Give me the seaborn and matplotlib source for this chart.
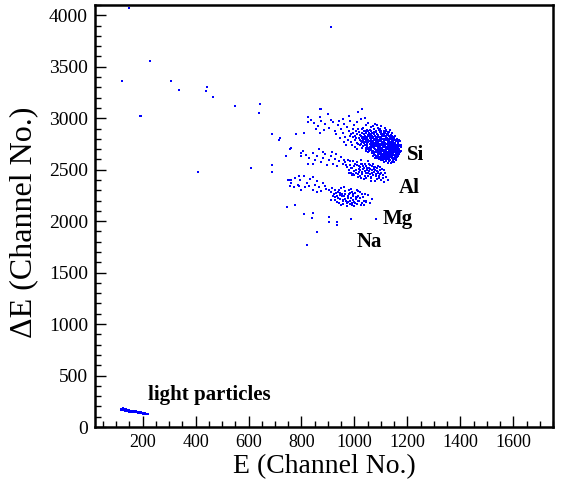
import matplotlib
matplotlib.use("Agg")
import matplotlib.pyplot as plt
import seaborn as sns
import pandas as pd
from matplotlib.ticker import MultipleLocator

# scattered single events
stray_e = [147, 911, 226, 123, 308, 336, 444, 440, 464, 190, 195, 548, 643, 639, 870,
           688, 716, 756, 743, 799, 799, 687, 688, 609, 409, 762, 824, 826, 780, 809,
           717, 761, 742, 1029, 874, 792, 755]
stray_de = [4075, 3887, 3553, 3359, 3366, 3275, 3304, 3265, 3207, 3019, 3019, 3120, 3139, 3055, 3091,
            2842, 2786, 2702, 2631, 2660, 2635, 2550, 2476, 2518, 2482, 2398, 3007, 2965, 2845, 2858,
            2803, 2706, 2631, 3094, 3094, 2343, 2398]

# Si band: halo + dense core
si_pts = [
    (835, 2985), (848, 2950), (862, 2920), (875, 2975), (890, 2940), (902, 2905), (918, 2960),
    (925, 2880), (936, 2930), (948, 2895), (955, 2860), (962, 2940), (970, 2910), (978, 2875),
    (986, 2845), (993, 2900), (942, 2970), (910, 2985), (885, 2890), (870, 2860), (855, 2895),
    (965, 2820), (975, 2790), (988, 2765), (995, 2860), (1000, 2930), (1010, 2960), (1025, 2990),
    (983, 2975), (958, 2995), (931, 2842), (947, 2805), (960, 2770), (990, 2735), (1002, 2720),
    (1010, 2700), (968, 2742), (1040, 3000), (980, 3020), (1015, 3060), (900, 3040), (870, 3010),
    (1045, 2935), (1062, 2912), (1078, 2948), (1090, 2905), (1101, 2925), (1033, 2908), (1070, 2928),
    (1115, 2902), (1052, 2956), (1085, 2930),
    (1005, 2880), (1018, 2862), (1027, 2893), (1039, 2871), (1048, 2889), (1056, 2858), (1064, 2877),
    (1072, 2895), (1081, 2866), (1093, 2884), (1102, 2859), (1110, 2876), (1121, 2890), (1128, 2864),
    (1012, 2897), (1044, 2852), (1097, 2897), (1067, 2853), (1135, 2881), (1030, 2855),
    (985, 2832), (996, 2815), (1008, 2842), (1016, 2808), (1024, 2828), (1035, 2847), (1041, 2812),
    (1050, 2835), (1058, 2804), (1066, 2826), (1073, 2845), (1080, 2813), (1089, 2838), (1096, 2806),
    (1104, 2829), (1112, 2848), (1119, 2815), (1127, 2836), (1135, 2809), (1142, 2831), (1148, 2818),
    (1001, 2826), (1029, 2803), (1061, 2840), (1086, 2821), (1115, 2830), (1046, 2820), (1099, 2843),
    (1002, 2785), (1011, 2763), (1020, 2792), (1028, 2771), (1037, 2757), (1043, 2790), (1051, 2768),
    (1059, 2782), (1067, 2754), (1075, 2797), (1082, 2773), (1090, 2758), (1097, 2789), (1105, 2766),
    (1113, 2781), (1121, 2752), (1128, 2795), (1136, 2770), (1143, 2786), (1150, 2759), (1157, 2778),
    (1163, 2764), (1168, 2790), (1015, 2752), (1047, 2798), (1071, 2776), (1094, 2775), (1117, 2797),
    (1140, 2755), (1031, 2779), (1062, 2766), (1086, 2793), (1108, 2753), (1131, 2779), (1153, 2793),
    (1022, 2735), (1030, 2712), (1038, 2744), (1046, 2723), (1053, 2704), (1061, 2738), (1068, 2716),
    (1076, 2747), (1083, 2727), (1091, 2706), (1098, 2740), (1106, 2719), (1113, 2733), (1120, 2702),
    (1127, 2745), (1134, 2725), (1141, 2709), (1148, 2738), (1155, 2717), (1162, 2731), (1169, 2705),
    (1174, 2742), (1042, 2706), (1065, 2728), (1087, 2745), (1102, 2710), (1124, 2723), (1146, 2748),
    (1158, 2703), (1079, 2702), (1117, 2739), (1137, 2741), (1057, 2725), (1095, 2722), (1166, 2721),
    (1042, 2685), (1050, 2668), (1058, 2694), (1066, 2673), (1074, 2655), (1081, 2689), (1089, 2664),
    (1096, 2697), (1103, 2677), (1111, 2658), (1118, 2692), (1125, 2670), (1132, 2683), (1139, 2654),
    (1146, 2696), (1153, 2675), (1160, 2661), (1166, 2688), (1172, 2669), (1085, 2679), (1108, 2695),
    (1128, 2657), (1150, 2686), (1063, 2690), (1100, 2652), (1121, 2676), (1143, 2671), (1163, 2697),
    (1077, 2672),
    (1070, 2636), (1079, 2618), (1088, 2645), (1096, 2627), (1104, 2609), (1111, 2640), (1119, 2621),
    (1126, 2647), (1133, 2630), (1140, 2612), (1147, 2642), (1154, 2625), (1161, 2637), (1093, 2605),
    (1116, 2604), (1137, 2648), (1158, 2614), (1101, 2633), (1129, 2617), (1083, 2630),
    (1102, 2592), (1112, 2576), (1121, 2597), (1130, 2582), (1138, 2563), (1146, 2590), (1125, 2568),
    (1150, 2575),
    (1052, 2873), (1060, 2846), (1075, 2868), (1087, 2851), (1099, 2872), (1106, 2845), (1116, 2861),
    (1124, 2849), (1131, 2870), (1140, 2856), (1035, 2880), (1042, 2865),
    (1004, 2810), (1020, 2836), (1032, 2822), (1038, 2801), (1054, 2826), (1063, 2815), (1070, 2807),
    (1078, 2832), (1092, 2818), (1101, 2802), (1109, 2823), (1123, 2808), (1131, 2824), (1139, 2840),
    (1145, 2803), (1153, 2826),
    (1024, 2782), (1034, 2794), (1040, 2769), (1055, 2776), (1063, 2791), (1069, 2764), (1079, 2786),
    (1085, 2761), (1092, 2780), (1100, 2797), (1110, 2772), (1116, 2762), (1124, 2785), (1133, 2763),
    (1139, 2796), (1147, 2771), (1155, 2762), (1160, 2787), (1166, 2772), (1172, 2781), (1049, 2760),
    (1101, 2780), (1145, 2789),
    (1026, 2748), (1034, 2727), (1049, 2740), (1056, 2715), (1064, 2748), (1072, 2731), (1080, 2754),
    (1088, 2719), (1093, 2736), (1103, 2749), (1110, 2727), (1116, 2716), (1122, 2750), (1130, 2735),
    (1139, 2719), (1144, 2730), (1152, 2746), (1159, 2726), (1164, 2740), (1171, 2729), (1176, 2718),
    (1070, 2741), (1107, 2740), (1132, 2713),
    (1045, 2698), (1054, 2680), (1061, 2710), (1070, 2684), (1078, 2702), (1086, 2690), (1092, 2676),
    (1099, 2708), (1106, 2686), (1114, 2671), (1121, 2705), (1129, 2688), (1136, 2700), (1142, 2683),
    (1149, 2707), (1156, 2692), (1162, 2679), (1169, 2694), (1175, 2684), (1115, 2688), (1135, 2672),
    (1093, 2694),
    (1068, 2660), (1076, 2644), (1083, 2667), (1091, 2651), (1099, 2664), (1107, 2645), (1114, 2662),
    (1122, 2650), (1130, 2665), (1137, 2637), (1144, 2656), (1151, 2646), (1157, 2660), (1164, 2648),
    (1170, 2655), (1118, 2636), (1100, 2642),
    (1085, 2612), (1092, 2624), (1108, 2620), (1115, 2628), (1123, 2608), (1131, 2601), (1139, 2625),
    (1145, 2610), (1152, 2602), (1160, 2622), (1108, 2590), (1118, 2586), (1135, 2592), (1143, 2578),
    (1156, 2595),
    (1058, 2752), (1066, 2738), (1074, 2760), (1081, 2745), (1089, 2770), (1095, 2752), (1103, 2735),
    (1111, 2758), (1118, 2746), (1126, 2768), (1133, 2750), (1141, 2765), (1149, 2752), (1157, 2740),
    (1164, 2755),
    (1060, 2700), (1068, 2722), (1075, 2708), (1084, 2735), (1090, 2715), (1097, 2730), (1105, 2702),
    (1112, 2745), (1119, 2712), (1127, 2730), (1134, 2708), (1142, 2736), (1150, 2722), (1157, 2709),
    (1168, 2738),
    (1072, 2666), (1080, 2680), (1088, 2698), (1095, 2668), (1102, 2693), (1110, 2680), (1117, 2652),
    (1124, 2697), (1131, 2675), (1138, 2691), (1145, 2663), (1152, 2700), (1159, 2684), (1167, 2671),
    (1078, 2795), (1085, 2808), (1093, 2792), (1100, 2815), (1107, 2800), (1114, 2790), (1121, 2825),
    (1129, 2802), (1137, 2818), (1144, 2795), (1151, 2808), (1159, 2800), (1165, 2782),
    (1050, 2790), (1057, 2812), (1046, 2775), (1039, 2830), (1070, 2820), (1062, 2800),
    (1090, 2632), (1097, 2618), (1105, 2650), (1113, 2615), (1120, 2638), (1128, 2625), (1135, 2655),
    (1142, 2632), (1149, 2618), (1156, 2645), (1163, 2630),
    (1065, 2858), (1080, 2880), (1095, 2862), (1110, 2855), (1118, 2872), (1126, 2842), (1058, 2882),
    (1088, 2840),
]

al_pts = [
    (805, 2680), (818, 2640), (830, 2610), (842, 2665), (851, 2590), (860, 2635), (868, 2700),
    (874, 2570), (882, 2615), (890, 2655), (897, 2545), (905, 2595), (912, 2630), (920, 2560),
    (927, 2605), (934, 2540), (941, 2585), (948, 2620), (955, 2555), (962, 2595), (845, 2560),
    (880, 2675), (915, 2675), (930, 2650), (825, 2560),
    (965, 2570), (970, 2530), (975, 2590), (980, 2500), (984, 2550), (988, 2470), (992, 2520),
    (996, 2580), (1000, 2450), (1004, 2500), (1008, 2545), (1012, 2425), (1016, 2480), (1020, 2530),
    (1024, 2590), (1028, 2455), (1032, 2505), (1036, 2405), (1040, 2560), (1044, 2470), (1048, 2520),
    (1052, 2440), (1056, 2490), (1060, 2545), (1064, 2415), (1068, 2465), (1072, 2510), (1076, 2390),
    (1080, 2440), (1084, 2485), (1088, 2535), (1092, 2420), (1096, 2460), (1100, 2400), (1104, 2510),
    (1108, 2445), (1112, 2385), (990, 2445), (1010, 2575), (1030, 2555), (1050, 2580), (1070, 2560),
    (1045, 2420), (1065, 2500), (1085, 2410), (1020, 2440), (1000, 2540), (978, 2465), (1058, 2455),
    (1078, 2525), (1095, 2495), (1038, 2485), (1018, 2510), (1115, 2470), (1120, 2430), (1125, 2400),
    (1026, 2420), (1062, 2390), (998, 2490), (1042, 2540), (1074, 2480), (1090, 2465), (1054, 2520),
    (1006, 2470),
    (968, 2548), (982, 2580), (986, 2512), (994, 2462), (1002, 2560), (1014, 2455), (1022, 2500),
    (1030, 2475), (1034, 2540), (1046, 2500), (1050, 2465), (1058, 2505), (1066, 2535), (1070, 2445),
    (1076, 2495), (1082, 2460), (1086, 2512), (1094, 2440), (1098, 2525), (1102, 2470), (1106, 2420),
    (1110, 2500), (1040, 2440), (1024, 2560), (1062, 2430), (1036, 2520), (1016, 2540), (1054, 2560),
    (1088, 2478), (1072, 2528),
]

mg_pts = [
    (748, 2400), (762, 2375), (775, 2420), (785, 2350), (796, 2395), (808, 2440), (815, 2330),
    (822, 2370), (834, 2410), (842, 2300), (850, 2355), (858, 2390), (866, 2330), (875, 2290),
    (880, 2370), (888, 2345), (893, 2310), (770, 2330), (830, 2345), (860, 2280), (800, 2300),
    (790, 2440), (845, 2425), (756, 2345),
    (902, 2305), (910, 2280), (915, 2325), (921, 2260), (927, 2300), (933, 2240), (938, 2285),
    (944, 2215), (948, 2320), (953, 2265), (957, 2195), (961, 2240), (966, 2290), (970, 2175),
    (974, 2225), (978, 2260), (982, 2200), (986, 2310), (990, 2160), (994, 2240), (998, 2190),
    (1002, 2270), (1006, 2215), (1010, 2170), (1014, 2245), (1018, 2200), (1022, 2280), (1027, 2180),
    (1032, 2230), (1037, 2160), (940, 2180), (950, 2155), (965, 2215), (980, 2300), (1000, 2150),
    (925, 2230), (960, 2330), (985, 2270), (995, 2205), (1015, 2290), (1045, 2200), (1050, 2250),
    (1060, 2175), (1068, 2220), (912, 2210), (935, 2190), (945, 2250), (972, 2145), (1008, 2235),
    (1025, 2155), (955, 2210), (990, 2285), (975, 2185), (1040, 2260), (930, 2275), (1003, 2180),
    (918, 2245), (928, 2205), (942, 2300), (952, 2240), (958, 2170), (963, 2265), (968, 2200),
    (976, 2240), (983, 2170), (988, 2225), (996, 2265), (1004, 2235), (1012, 2195), (1020, 2225),
    (1030, 2265), (1035, 2200), (947, 2270), (938, 2225), (1010, 2300), (992, 2180),
]

na_e = [745, 777, 808, 843, 839, 903, 903, 933, 935, 988, 859, 822, 1042, 1082]
na_de = [2133, 2155, 2065, 2075, 2032, 2039, 1993, 1990, 1961, 2019, 1896, 1767, 2188, 2019]

light_e = [120, 123, 126, 129, 131, 134, 137, 140, 143, 146, 149, 152, 155, 158, 161, 164, 167,
           170, 173, 176, 179, 182, 185, 188, 191, 194, 197, 200, 203, 206, 209, 212, 215, 218,
           221, 125, 132, 118, 138, 147, 156, 166, 174, 186, 195, 205, 150, 135]
light_de = [178, 168, 175, 163, 172, 160, 169, 158, 166, 155, 163, 152, 160, 150, 157, 147, 154,
            144, 151, 141, 148, 139, 145, 136, 143, 134, 140, 131, 137, 129, 134, 127, 131, 125,
            128, 182, 178, 170, 174, 170, 148, 141, 158, 132, 146, 124, 145, 152]

labels = ["Si", "Al", "Mg", "Na", "light particles"]
label_e = [1230, 1208, 1162, 1057, 452]
label_de = [2641, 2320, 2019, 1796, 311]

E = (stray_e + [p[0] for p in si_pts] + [p[0] for p in al_pts] + [p[0] for p in mg_pts]
     + na_e + light_e)
dE = (stray_de + [p[1] for p in si_pts] + [p[1] for p in al_pts] + [p[1] for p in mg_pts]
      + na_de + light_de)
df = pd.DataFrame({"E": E, "dE": dE})

sns.set_style("white")
plt.rcParams["font.family"] = ["Liberation Serif", "DejaVu Serif"]
plt.rcParams["text.color"] = "black"
plt.rcParams["axes.labelcolor"] = "black"

fig = plt.figure(figsize=(5.61, 4.82), dpi=100)
ax = fig.add_axes([95 / 561, 55 / 482, 458 / 561, 422 / 482])

sns.scatterplot(data=df, x="E", y="dE", ax=ax, color="#0000ff", marker="s",
                s=4.5, linewidth=0, legend=False)

ax.set_xlim(20, 1750)
ax.set_ylim(0, 4100)
ax.xaxis.set_major_locator(MultipleLocator(200))
ax.xaxis.set_minor_locator(MultipleLocator(50))
ax.yaxis.set_major_locator(MultipleLocator(500))
ax.yaxis.set_minor_locator(MultipleLocator(100))
ax.tick_params(which="both", direction="in", bottom=True, left=True, top=False, right=False,
               width=1, colors="black")
ax.tick_params(which="major", length=8, pad=5)
ax.tick_params(which="minor", length=4)
ax.tick_params(axis="x", labelsize=13)
ax.tick_params(axis="y", labelsize=14)
for sp in ax.spines.values():
    sp.set_linewidth(1.8)
    sp.set_color("black")

ax.set_xlabel("E (Channel No.)", fontsize=20, labelpad=2)
ax.set_ylabel("ΔE (Channel No.)", fontsize=23)
ax.yaxis.set_label_coords(-0.125, 0.486)

for t, x, y in zip(labels, label_e, label_de):
    ax.text(x, y, t, fontsize=15, fontweight="bold", ha="center", va="center")

fig.savefig("out.png", dpi=100)
